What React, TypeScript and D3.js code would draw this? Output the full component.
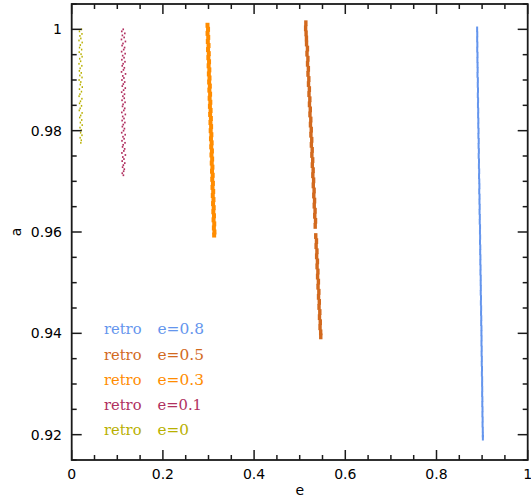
import React from "react";
import * as d3 from "d3";

// ---- data (e, a) ----
const retroE0: [number, number][] = [
  [0.0215, 1.0], [0.017, 0.9996], [0.0225, 0.9991], [0.018, 0.9987], [0.02, 0.9982], [0.016, 0.9978],
  [0.023, 0.9974], [0.019, 0.9969], [0.0172, 0.9964], [0.0218, 0.996], [0.0165, 0.9955], [0.0205, 0.9951],
  [0.0228, 0.9946], [0.0175, 0.9942], [0.0196, 0.9937], [0.016, 0.9932], [0.0222, 0.9928], [0.0185, 0.9923],
  [0.0168, 0.9918], [0.021, 0.9914], [0.0178, 0.9909], [0.0226, 0.9905], [0.0163, 0.99], [0.02, 0.9896],
  [0.0188, 0.9891], [0.0232, 0.9886], [0.017, 0.9882], [0.0214, 0.9877], [0.0181, 0.9872], [0.0162, 0.9868],
  [0.0224, 0.9863], [0.0193, 0.9858], [0.0172, 0.9854], [0.0215, 0.9849], [0.0186, 0.9844], [0.0166, 0.984],
  [0.0228, 0.9835], [0.0198, 0.983], [0.0176, 0.9826], [0.022, 0.9821], [0.019, 0.9816], [0.023, 0.9811],
  [0.0182, 0.9806], [0.0212, 0.9801], [0.0195, 0.9796], [0.0225, 0.9791], [0.0185, 0.9786], [0.021, 0.9781],
  [0.02, 0.9776],
];

const retroE01A: number[] = [
  1.0, 0.9996, 0.9992, 0.9988, 0.9984, 0.998, 0.9976, 0.9972, 0.9968, 0.9964, 0.996, 0.9956, 0.9952, 0.9948,
  0.9944, 0.994, 0.9936, 0.9932, 0.9928, 0.9924, 0.992, 0.9916, 0.9912, 0.9908, 0.9904, 0.99, 0.9896, 0.9892,
  0.9888, 0.9884, 0.988, 0.9876, 0.9872, 0.9868, 0.9864, 0.986, 0.9856, 0.9852, 0.9848, 0.9844, 0.984, 0.9836,
  0.9832, 0.9828, 0.9824, 0.982, 0.9816, 0.9812, 0.9808, 0.9804, 0.98, 0.9796, 0.9792, 0.9788, 0.9784, 0.978,
  0.9776, 0.9772, 0.9768, 0.9764, 0.976, 0.9756, 0.9752, 0.9748, 0.9744, 0.974, 0.9736, 0.9732, 0.9728, 0.9724,
  0.972, 0.9716, 0.9712,
];
const retroE01E: number[] = [
  0.113, 0.1098, 0.1165, 0.1112, 0.115, 0.1092, 0.1178, 0.1125, 0.1105, 0.116, 0.114, 0.1095, 0.1172, 0.1118,
  0.1148, 0.11, 0.1168, 0.1128, 0.1108, 0.1155, 0.1135, 0.1093, 0.118, 0.112, 0.1145, 0.1102, 0.1162, 0.1132,
  0.111, 0.1175, 0.1138, 0.1096, 0.1158, 0.1122, 0.1152, 0.1104, 0.117, 0.1127, 0.1114, 0.1163, 0.1142, 0.1099,
  0.1176, 0.1119, 0.1147, 0.1106, 0.1166, 0.1131, 0.1111, 0.1157, 0.1137, 0.1097, 0.1173, 0.1124, 0.1149, 0.1103,
  0.1169, 0.1129, 0.1115, 0.1161, 0.1143, 0.1101, 0.1177, 0.1121, 0.1146, 0.1107, 0.1164, 0.1133, 0.1116, 0.1154,
  0.1139, 0.1109, 0.1134,
];

const retroE03A: number[] = [
  1.0008, 1.0, 0.9992, 0.9984, 0.9976, 0.9968, 0.996, 0.9952, 0.9944, 0.9936, 0.9928, 0.992, 0.9912, 0.9904,
  0.9896, 0.9888, 0.988, 0.9872, 0.9864, 0.9856, 0.9848, 0.984, 0.9832, 0.9824, 0.9816, 0.9808, 0.98, 0.9792,
  0.9784, 0.9776, 0.9768, 0.976, 0.9752, 0.9744, 0.9736, 0.9728, 0.972, 0.9712, 0.9704, 0.9696, 0.9688, 0.968,
  0.9672, 0.9664, 0.9656, 0.9648, 0.964, 0.9632, 0.9624, 0.9616, 0.9608, 0.96, 0.9594,
];
const retroE03E: number[] = [
  0.2978, 0.299, 0.2979, 0.2994, 0.2985, 0.3001, 0.299, 0.3006, 0.2997, 0.3012, 0.3003, 0.3018, 0.3008, 0.3022,
  0.3014, 0.3029, 0.3019, 0.3035, 0.3025, 0.304, 0.3031, 0.3046, 0.3036, 0.3052, 0.3043, 0.3057, 0.3048, 0.3063,
  0.3054, 0.3069, 0.306, 0.3075, 0.3065, 0.308, 0.3071, 0.3086, 0.3077, 0.3092, 0.3082, 0.3097, 0.3088, 0.3103,
  0.3094, 0.3109, 0.31, 0.3114, 0.3106, 0.312, 0.3111, 0.3126, 0.3118, 0.313, 0.3124,
];

const retroE05A: number[] = [
  1.0012, 1.0002, 0.9992, 0.9982, 0.9972, 0.9962, 0.9952, 0.9942, 0.9932, 0.9922, 0.9912, 0.9902, 0.9892, 0.9882,
  0.9872, 0.9862, 0.9852, 0.9842, 0.9832, 0.9822, 0.9812, 0.9802, 0.9792, 0.9782, 0.9772, 0.9762, 0.9752, 0.9742,
  0.9732, 0.9722, 0.9712, 0.9702, 0.9692, 0.9682, 0.9672, 0.9662, 0.9652, 0.9642, 0.9632, 0.9622, 0.9612,
  0.9592, 0.9582, 0.9572, 0.9562, 0.9552, 0.9542, 0.9532, 0.9522, 0.9512, 0.9502, 0.9492, 0.9482, 0.9472, 0.9462,
  0.9452, 0.9442, 0.9432, 0.9422, 0.9412, 0.9402, 0.9394,
];
const retroE05E: number[] = [
  0.5135, 0.513, 0.514, 0.5148, 0.515, 0.517, 0.516, 0.518, 0.5172, 0.519, 0.5182, 0.52, 0.5193, 0.5212, 0.5204,
  0.5222, 0.5214, 0.5232, 0.5225, 0.5243, 0.5236, 0.5253, 0.5246, 0.5264, 0.5256, 0.5274, 0.5267, 0.5285, 0.5277,
  0.5295, 0.5288, 0.5305, 0.5298, 0.5316, 0.5309, 0.5326, 0.5319, 0.5337, 0.533, 0.5347, 0.534,
  0.5352, 0.5368, 0.536, 0.5378, 0.5371, 0.5389, 0.5381, 0.5399, 0.5392, 0.541, 0.5402, 0.542, 0.5413, 0.543,
  0.5424, 0.5441, 0.5434, 0.5451, 0.5446, 0.546, 0.5462,
];

const retroE08A: number[] = [
  1.0, 0.999, 0.998, 0.997, 0.996, 0.995, 0.994, 0.993, 0.992, 0.991, 0.99, 0.989, 0.988, 0.987, 0.986, 0.985,
  0.984, 0.983, 0.982, 0.981, 0.98, 0.979, 0.978, 0.977, 0.976, 0.975, 0.974, 0.973, 0.972, 0.971, 0.97, 0.969,
  0.968, 0.967, 0.966, 0.965, 0.964, 0.963, 0.962, 0.961, 0.96, 0.959, 0.958, 0.957, 0.956, 0.955, 0.954, 0.953,
  0.952, 0.951, 0.95, 0.949, 0.948, 0.947, 0.946, 0.945, 0.944, 0.943, 0.942, 0.941, 0.94, 0.939, 0.938, 0.937,
  0.936, 0.935, 0.934, 0.933, 0.932, 0.931, 0.93, 0.929, 0.928, 0.927, 0.926, 0.925, 0.924, 0.923, 0.922, 0.921,
  0.92, 0.9194,
];
const retroE08E: number[] = [
  0.8891, 0.8894, 0.8892, 0.8896, 0.8893, 0.8899, 0.8897, 0.89, 0.8902, 0.8899, 0.8907, 0.8905, 0.891, 0.8906,
  0.8912, 0.8909, 0.8915, 0.8913, 0.8918, 0.8916, 0.8922, 0.8919, 0.8926, 0.8923, 0.8929, 0.8925, 0.8932, 0.893,
  0.8936, 0.8933, 0.8938, 0.8941, 0.8937, 0.8944, 0.8942, 0.8947, 0.8944, 0.895, 0.8948, 0.8955, 0.8953, 0.8957,
  0.8954, 0.896, 0.8958, 0.8963, 0.8961, 0.8966, 0.8964, 0.897, 0.8969, 0.8972, 0.897, 0.8976, 0.8973, 0.8979,
  0.8977, 0.8982, 0.898, 0.8986, 0.8985, 0.8988, 0.8986, 0.8991, 0.8989, 0.8994, 0.8992, 0.8998, 0.8995, 0.9001,
  0.9, 0.9003, 0.9001, 0.9006, 0.9004, 0.9009, 0.9007, 0.9012, 0.901, 0.9015, 0.9016, 0.9017,
];

const xMajorTicks = [0, 0.2, 0.4, 0.6, 0.8, 1];
const xTickLabels = ["0", "0.2", "0.4", "0.6", "0.8", "1"];
const yMajorTicks = [0.92, 0.94, 0.96, 0.98, 1.0];
const yTickLabels = ["0.92", "0.94", "0.96", "0.98", "1"];

const legendLabels = ["retro e=0.8", "retro e=0.5", "retro e=0.3", "retro e=0.1", "retro e=0"];

const zip = (a: number[], e: number[]): [number, number][] => a.map((v, i) => [e[i], v]);

const series = [
  { name: "retro e=0.8", color: "#6495ED", pts: zip(retroE08A, retroE08E), w: 2, h: 5.6 },
  { name: "retro e=0.5", color: "#D2691E", pts: zip(retroE05A, retroE05E), w: 3.4, h: 5.8 },
  { name: "retro e=0.3", color: "#FF8C00", pts: zip(retroE03A, retroE03E), w: 4, h: 5 },
  { name: "retro e=0.1", color: "#B03060", pts: zip(retroE01A, retroE01E), w: 1.6, h: 1.8 },
  { name: "retro e=0", color: "#B8B000", pts: retroE0, w: 1.4, h: 1.8 },
];

export default function App() {
  const W = 531, H = 499;
  const x = d3.scaleLinear().domain([0, 1]).range([71.7, 527.7]);
  const y = d3.scaleLinear().domain([0.915, 1.005]).range([460, 4]);
  const [x0, x1] = x.range();
  const [y0, y1] = y.range();
  const xMinor = d3.range(0, 1.0001, 0.05).filter((v) => !xMajorTicks.some((m) => Math.abs(m - v) < 1e-6));
  const yMinor = d3.range(0.915, 1.0051, 0.005).filter((v) => !yMajorTicks.some((m) => Math.abs(m - v) < 1e-6));
  const frame = "#1a1a1a";
  const sans = "'DejaVu Sans', sans-serif";
  const serif = "'DejaVu Serif', serif";
  return (
    <svg width={W} height={H} style={{ position: "absolute", left: 0, top: 0, background: "#fff" }}>
      {/* data */}
      {series.map((s) =>
        s.pts.map(([e, a], i) => (
          <rect key={s.name + i} x={x(e) - s.w / 2} y={y(a) - s.h / 2} width={s.w} height={s.h} fill={s.color} />
        ))
      )}
      {/* ticks */}
      <g stroke={frame} strokeWidth={1.5}>
        {xMajorTicks.map((v) => (
          <g key={"xm" + v}>
            <line x1={x(v)} x2={x(v)} y1={y0} y2={y0 - 10} />
            <line x1={x(v)} x2={x(v)} y1={y1} y2={y1 + 10} />
          </g>
        ))}
        {xMinor.map((v) => (
          <g key={"xn" + v}>
            <line x1={x(v)} x2={x(v)} y1={y0} y2={y0 - 5} />
            <line x1={x(v)} x2={x(v)} y1={y1} y2={y1 + 5} />
          </g>
        ))}
        {yMajorTicks.map((v) => (
          <g key={"ym" + v}>
            <line x1={x0} x2={x0 + 10} y1={y(v)} y2={y(v)} />
            <line x1={x1} x2={x1 - 10} y1={y(v)} y2={y(v)} />
          </g>
        ))}
        {yMinor.map((v) => (
          <g key={"yn" + v}>
            <line x1={x0} x2={x0 + 5} y1={y(v)} y2={y(v)} />
            <line x1={x1} x2={x1 - 5} y1={y(v)} y2={y(v)} />
          </g>
        ))}
      </g>
      <rect x={x0} y={y1} width={x1 - x0} height={y0 - y1} fill="none" stroke={frame} strokeWidth={1.8} />
      {/* tick labels */}
      <g fontFamily={sans} fontSize={14} fill="#000">
        {xMajorTicks.map((v, i) => (
          <text key={"xl" + v} x={x(v)} y={479} textAnchor="middle">
            {xTickLabels[i]}
          </text>
        ))}
        {yMajorTicks.map((v, i) => (
          <text key={"yl" + v} x={62} y={y(v) + 5} textAnchor="end">
            {yTickLabels[i]}
          </text>
        ))}
        <text x={(x0 + x1) / 2} y={495} textAnchor="middle">e</text>
        <text transform={`translate(21, ${(y0 + y1) / 2}) rotate(-90)`} textAnchor="middle">a</text>
      </g>
      {/* legend */}
      <g fontFamily={serif} fontSize={14}>
        {legendLabels.map((lab, i) => {
          const [w1, w2] = lab.split(" ");
          const w2len = w2.length === 3 ? 31.5 : w2.endsWith("1") ? 44.5 : 46.5;
          return (
            <text key={lab} y={334.3 + i * 25.2} fill={series[i].color}>
              <tspan x={104} textLength={37.5} lengthAdjust="spacingAndGlyphs">{w1}</tspan>
              {" "}
              <tspan x={157.5} textLength={w2len} lengthAdjust="spacingAndGlyphs">{w2}</tspan>
            </text>
          );
        })}
      </g>
    </svg>
  );
}
